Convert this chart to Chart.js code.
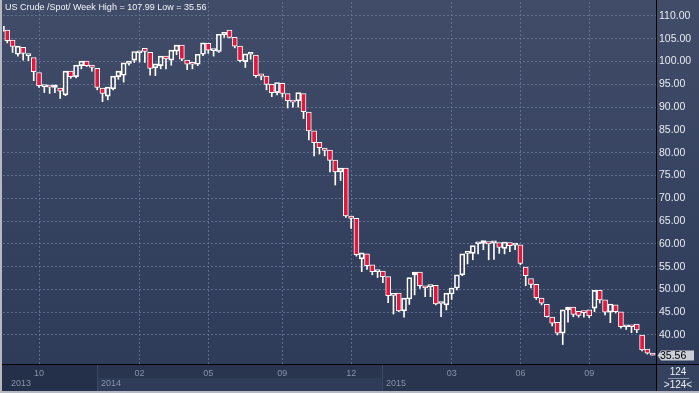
<!DOCTYPE html>
<html>
<head>
<meta charset="utf-8">
<script src="https://cdn.jsdelivr.net/npm/chart.js@4.4.1/dist/chart.umd.min.js"></script>
<style>
  html, body { margin: 0; padding: 0; background: #2c3956; }
  #wrap { width: 699px; height: 393px; }
</style>
</head>
<body>
<div id="wrap"><canvas id="crudeChart" width="699" height="393"></canvas></div>
<script>
// weekly candles
var opens = [
  106.6, 106.9, 104.7, 101.6, 103.1, 101.3, 100.9, 97.6, 94.5, 94.8,
  94.3, 94.2, 92.7, 97.9, 96.7, 99.1, 100.1, 99.2, 98.5, 94.2,
  92.4, 94.0, 96.7, 97.0, 99.6, 100.3, 101.9, 102.9, 102.0, 98.6,
  99.1, 101.2, 100.3, 102.3, 103.6, 100.3, 99.5, 99.4, 101.6, 104.0,
  102.4, 102.2, 105.9, 106.9, 105.3, 103.4, 100.0, 101.6, 101.4, 97.3,
  96.8, 95.0, 93.2, 95.2, 93.0, 91.5, 91.4, 93.0, 88.9, 84.8,
  82.3, 81.0, 80.6, 78.4, 75.8, 76.6, 66.1, 65.6, 56.7, 57.8,
  55.4, 53.9, 54.0, 52.8, 48.7, 49.2, 45.3, 47.9, 53.2, 53.8,
  50.8, 50.6, 50.9, 46.9, 46.6, 49.0, 50.3, 53.2, 57.9, 57.9,
  60.0, 60.1, 60.5, 60.2, 60.3, 59.0, 60.3, 59.7, 59.8, 54.9,
  52.4, 51.1, 48.1, 46.7, 43.9, 42.8, 40.4, 45.5, 46.1, 45.2,
  45.2, 45.5, 45.9, 49.8, 47.7, 45.0, 46.6, 45.1, 41.8, 41.9,
  42.4, 40.0, 36.9, 36.0
];
var highs = [
  107.99, 107.9, 104.9, 103.9, 103.6, 103.1, 101.1, 98.0, 95.7, 95.6,
  95.7, 94.9, 98.2, 98.7, 99.4, 100.8, 100.5, 99.6, 98.7, 94.7,
  95.0, 97.0, 98.6, 100.5, 100.7, 103.1, 103.3, 104.9, 102.2, 100.6,
  101.8, 101.8, 103.0, 104.0, 103.9, 101.8, 100.5, 102.0, 104.3, 104.3,
  103.4, 106.8, 106.9, 107.3, 105.6, 103.8, 102.9, 102.9, 101.7, 98.2,
  97.9, 95.2, 95.6, 95.5, 93.4, 94.1, 93.8, 94.4, 90.0, 85.1,
  83.2, 82.8, 81.0, 79.7, 77.7, 77.1, 69.6, 65.7, 59.2, 58.7,
  55.9, 54.5, 55.1, 53.0, 51.9, 49.3, 48.8, 54.6, 54.9, 54.0,
  51.9, 53.4, 51.1, 48.1, 53.0, 51.7, 55.0, 58.9, 58.9, 60.3,
  63.3, 62.6, 61.7, 62.1, 61.6, 61.9, 61.7, 61.7, 60.0, 55.5,
  53.0, 51.5, 48.6, 47.2, 44.4, 43.3, 45.9, 49.6, 46.6, 48.1,
  47.1, 46.4, 51.3, 51.3, 48.1, 47.8, 47.1, 45.6, 43.7, 43.8,
  42.9, 40.2, 39.1, 36.1
];
var lows = [
  106.2, 104.1, 102.0, 101.2, 100.3, 100.2, 95.8, 94.3, 93.2, 93.0,
  93.2, 91.9, 92.5, 96.3, 96.4, 98.4, 98.9, 97.9, 93.8, 91.2,
  91.6, 93.8, 96.1, 95.5, 99.2, 99.8, 99.9, 99.8, 97.0, 96.9,
  98.4, 98.4, 99.2, 101.5, 100.2, 98.2, 98.4, 99.1, 101.3, 101.8,
  101.2, 102.0, 105.3, 105.2, 103.0, 99.9, 98.7, 100.5, 96.5, 96.0,
  93.8, 92.3, 92.7, 92.2, 89.8, 90.0, 90.0, 87.5, 82.8, 79.3,
  79.7, 79.3, 75.8, 72.9, 73.9, 65.8, 63.4, 57.3, 53.9, 54.4,
  53.2, 52.6, 51.5, 47.1, 44.6, 45.1, 43.9, 46.7, 48.8, 50.2,
  48.4, 48.4, 46.6, 44.0, 45.5, 47.8, 49.9, 53.0, 55.6, 56.5,
  57.8, 58.7, 56.5, 56.6, 57.9, 57.8, 58.3, 58.7, 55.4, 50.8,
  50.3, 47.8, 46.6, 43.9, 42.0, 40.0, 37.9, 42.8, 44.0, 43.9,
  43.9, 43.8, 45.1, 47.0, 44.4, 42.7, 44.8, 41.5, 41.2, 40.5,
  40.5, 36.5, 35.8, 35.56
];
var closes = [
  107.8, 104.6, 103.3, 103.4, 101.8, 101.5, 97.8, 94.7, 94.6, 94.4,
  94.9, 93.5, 97.9, 96.7, 99.2, 100.1, 99.1, 98.7, 94.3, 93.0,
  94.4, 96.8, 97.9, 99.7, 100.1, 102.2, 102.3, 102.2, 98.5, 99.5,
  101.2, 100.6, 102.5, 103.6, 100.5, 99.4, 99.4, 101.6, 104.1, 102.5,
  102.5, 106.0, 106.4, 105.3, 103.4, 100.2, 101.7, 101.7, 96.9, 96.8,
  95.0, 93.2, 95.4, 93.0, 91.4, 91.1, 93.2, 89.0, 84.8, 82.2,
  81.1, 80.5, 78.3, 75.8, 76.6, 66.1, 65.6, 57.6, 58.0, 55.2,
  53.9, 54.0, 52.8, 48.6, 48.8, 45.3, 48.1, 52.6, 53.8, 50.8,
  50.3, 50.8, 46.8, 47.0, 49.2, 50.3, 53.2, 57.8, 58.0, 59.6,
  60.1, 60.7, 60.0, 60.3, 59.2, 60.4, 59.6, 59.8, 55.7, 53.0,
  51.1, 48.2, 47.0, 44.0, 42.6, 40.4, 45.5, 46.1, 44.5, 44.3,
  44.9, 44.2, 49.8, 47.7, 45.0, 46.8, 45.1, 41.8, 41.9, 41.8,
  41.1, 36.7, 36.0, 35.56
];

// axis labels
var priceTicks = [40, 45, 50, 55, 60, 65, 70, 75, 80, 85, 90, 95, 100, 105, 110];
var monthTicks = [7, 26, 39, 53, 66, 85, 98, 111];
var monthLabels = ["10", "02", "05", "09", "12", "03", "06", "09"];
var yearStarts = [1, 18, 72];
var yearLabels = ["2013", "2014", "2015"];

var RED = "#e3163c";
var GRID = "rgba(108,124,158,0.75)";
var FONT = '"Liberation Sans", Arial, sans-serif';

var n = closes.length;
var bodies = [], upperWicks = [], lowerWicks = [], bodyFill = [];
for (var i = 0; i < n; i++) {
  var top = Math.max(opens[i], closes[i]);
  var bot = Math.min(opens[i], closes[i]);
  bodies.push({ x: i, y: [opens[i], closes[i]] });
  upperWicks.push({ x: i, y: [top, highs[i]] });
  lowerWicks.push({ x: i, y: [lows[i], bot] });
  bodyFill.push(closes[i] >= opens[i] ? "rgba(0,0,0,0)" : RED);
}

// panel background, bottom bands, frame and labels
var panelPlugin = {
  id: "panel",
  beforeDraw: function (chart) {
    var ctx = chart.ctx, a = chart.chartArea, W = chart.width, H = chart.height;
    var xs = chart.scales.x;
    ctx.save();
    var g = ctx.createLinearGradient(0, 0, 0, a.bottom);
    g.addColorStop(0, "#404c68");
    g.addColorStop(1, "#2e3b59");
    ctx.fillStyle = g;
    ctx.fillRect(0, 0, W, a.bottom);
    // bottom time axis rows
    ctx.fillStyle = "#29354f";
    ctx.fillRect(0, a.bottom, W, H - a.bottom);
    var sep1 = Math.round(xs.getPixelForValue(yearStarts[1] - 0.1));
    var sep2 = Math.round(xs.getPixelForValue(yearStarts[2] - 0.1));
    ctx.fillStyle = "#243049";
    ctx.fillRect(0, a.bottom, sep1, H - a.bottom);
    ctx.fillStyle = "#2f3c59";
    ctx.fillRect(sep1, a.bottom + 14, sep2 - sep1, H - a.bottom - 14);
    // corner box
    ctx.fillStyle = "#34425f";
    ctx.fillRect(a.right, a.bottom, W - a.right, H - a.bottom);
    ctx.restore();
  },
  afterDraw: function (chart) {
    var ctx = chart.ctx, a = chart.chartArea, W = chart.width, H = chart.height;
    var xs = chart.scales.x, ys = chart.scales.y;
    ctx.save();
    // year separators + labels
    ctx.font = "9px " + FONT;
    ctx.textBaseline = "middle";
    ctx.textAlign = "left";
    for (var k = 0; k < yearStarts.length; k++) {
      var px = Math.round(xs.getPixelForValue(yearStarts[k] - 0.1));
      if (k > 0) {
        ctx.fillStyle = "#3a4866";
        ctx.fillRect(px, a.bottom + 1, 1, H - a.bottom - 3);
      }
      ctx.fillStyle = "#8792a8";
      ctx.fillText(yearLabels[k], px + 4, a.bottom + 19.5);
    }
    // black axis lines
    ctx.fillStyle = "#000";
    ctx.fillRect(0, a.bottom, W, 1);
    ctx.fillRect(a.right, 0, 1, H);
    // frame
    ctx.fillStyle = "#b4b9c3";
    ctx.fillRect(0, 0, 2, H);
    ctx.fillRect(0, H - 2, W, 2);
    // title
    ctx.font = "9px " + FONT;
    ctx.fillStyle = "#f2f4f8";
    ctx.fillText("US Crude /Spot/ Week High = " + Math.max.apply(null, highs).toFixed(2) +
      " Low = " + Math.min.apply(null, lows).toFixed(2), 5, 7.5);
    // last price tag
    var last = closes[n - 1];
    var ly = Math.round(ys.getPixelForValue(last)) + 0.5;
    ctx.fillStyle = "#c9ced7";
    ctx.beginPath();
    ctx.moveTo(a.right + 1.5, ly);
    ctx.lineTo(a.right + 5, ly - 5);
    ctx.lineTo(694, ly - 5);
    ctx.lineTo(694, ly + 5);
    ctx.lineTo(a.right + 5, ly + 5);
    ctx.closePath();
    ctx.fill();
    ctx.fillStyle = "#000";
    ctx.font = "10.5px " + FONT;
    ctx.fillText(last.toFixed(2), a.right + 4, ly + 0.5);
    // bar count box
    ctx.fillStyle = "#eef0f5";
    ctx.textAlign = "center";
    ctx.font = "10px " + FONT;
    ctx.fillText(String(n), 678, a.bottom + 8);
    ctx.fillText(">" + n + "<", 678, a.bottom + 21);
    ctx.fillStyle = "#8b95aa";
    ctx.fillRect(668, a.bottom + 14, 21, 1);
    ctx.restore();
  }
};

var ctx = document.getElementById("crudeChart").getContext("2d");
Chart.defaults.font.family = FONT;

new Chart(ctx, {
  type: "bar",
  data: {
    datasets: [
      {
        label: "upper wick",
        data: upperWicks,
        backgroundColor: "#ffffff",
        borderWidth: 0,
        barThickness: 1,
        grouped: false,
        order: 3,
      },
      {
        label: "lower wick",
        data: lowerWicks,
        backgroundColor: "#ffffff",
        borderWidth: 0,
        barThickness: 1,
        grouped: false,
        order: 2,
      },
      {
        label: "body",
        data: bodies,
        backgroundColor: bodyFill,
        borderColor: "#ffffff",
        borderWidth: 1,
        borderSkipped: false,
        barThickness: 5,
        minBarLength: 2,
        grouped: false,
        order: 1,
      },
    ],
  },
  options: {
    responsive: false,
    animation: false,
    events: [],
    layout: { padding: { left: 3, top: 2, right: 0, bottom: 0 } },
    plugins: {
      legend: { display: false },
      tooltip: { enabled: false },
    },
    scales: {
      x: {
        type: "linear",
        position: "bottom",
        offset: false,
        min: 0.19,
        max: 123.63,
        afterFit: function (scale) {
          scale.height = 29;
          scale.paddingLeft = 0;
          scale.paddingRight = 0;
        },
        afterBuildTicks: function (scale) {
          scale.ticks = monthTicks.map(function (v) { return { value: v }; });
        },
        grid: { color: GRID, drawTicks: false, offset: false },
        border: { display: false, dash: [2, 2] },
        ticks: {
          autoSkip: false,
          maxRotation: 0,
          padding: 4,
          color: "#8792a8",
          font: { size: 9 },
          callback: function (v) { return monthLabels[monthTicks.indexOf(v)]; },
        },
      },
      y: {
        type: "linear",
        position: "right",
        min: 33.63,
        max: 113.07,
        afterFit: function (scale) {
          scale.width = 43;
          scale.paddingTop = 0;
          scale.paddingBottom = 0;
        },
        afterBuildTicks: function (scale) {
          scale.ticks = priceTicks.map(function (v) { return { value: v }; });
        },
        grid: { color: GRID, drawTicks: false },
        border: { display: false, dash: [2, 2] },
        ticks: {
          padding: 3,
          color: "#e8ebf1",
          font: { size: 10.5 },
          callback: function (v) { return v.toFixed(2); },
        },
      },
    },
  },
  plugins: [panelPlugin],
});
</script>
</body>
</html>
